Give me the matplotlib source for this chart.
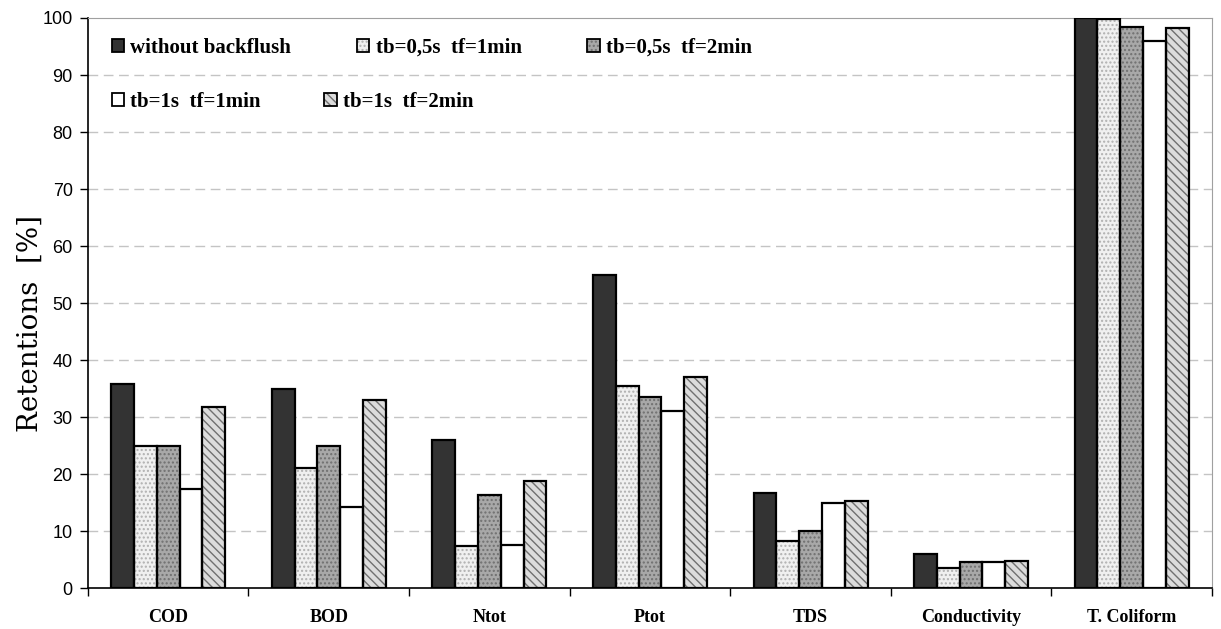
import matplotlib
matplotlib.use("Agg")
import matplotlib.pyplot as plt
from matplotlib.legend_handler import HandlerTuple
import numpy as np

categories = ["COD", "BOD", "Ntot", "Ptot", "TDS", "Conductivity", "T. Coliform"]
series_names = ["without backflush", "tb=0,5s  tf=1min", "tb=0,5s  tf=2min",
                "tb=1s  tf=1min", "tb=1s  tf=2min"]
without_backflush = [35.8, 35.0, 26.0, 55.0, 16.7, 6.0, 100.0]
tb05_tf1 = [25.0, 21.0, 7.3, 35.5, 8.3, 3.6, 99.8]
tb05_tf2 = [25.0, 25.0, 16.3, 33.5, 10.0, 4.5, 98.5]
tb1_tf1 = [17.4, 14.3, 7.5, 31.0, 15.0, 4.6, 96.0]
tb1_tf2 = [31.8, 33.0, 18.8, 37.0, 15.3, 4.8, 98.2]
y_ticks = [0, 10, 20, 30, 40, 50, 60, 70, 80, 90, 100]

series = [without_backflush, tb05_tf1, tb05_tf2, tb1_tf1, tb1_tf2]
styles = [
    dict(face="#333333", hatch=None, hcol="#333333"),
    dict(face="#f0f0f0", hatch="....", hcol="#b0b0b0"),
    dict(face="#a8a8a8", hatch="....", hcol="#707070"),
    dict(face="#ffffff", hatch=None, hcol="#ffffff"),
    dict(face="#dcdcdc", hatch="\\\\\\\\", hcol="#707070"),
]

fig = plt.figure(figsize=(12.21, 6.29), dpi=100)
ax = fig.add_axes([0.072, 0.065, 0.9206, 0.9064])

x = np.arange(len(categories))
w = 0.142
handles = []
for i, (vals, st) in enumerate(zip(series, styles)):
    pos = x + (i - 2) * w
    ax.bar(pos, vals, width=w, color=st["face"], hatch=st["hatch"],
           edgecolor=st["hcol"], linewidth=0, zorder=3)
    ax.bar(pos, vals, width=w, fill=False, edgecolor="black", linewidth=1.6, zorder=4)
    p1 = matplotlib.patches.Patch(facecolor=st["face"], hatch=st["hatch"],
                                  edgecolor=st["hcol"], linewidth=0)
    p2 = matplotlib.patches.Patch(fill=False, edgecolor="black", linewidth=1.3)
    handles.append((p1, p2))

ax.set_xlim(-0.5, len(categories) - 0.5)
ax.set_ylim(0, 100)
ax.set_yticks(y_ticks)
ax.set_yticklabels([str(t) for t in y_ticks], fontfamily="Liberation Sans", fontsize=13)
ax.set_xticks(x)
ax.set_xticklabels(categories, fontfamily="Liberation Serif", fontweight="bold", fontsize=13)
ax.set_xticks(np.arange(len(categories) + 1) - 0.5, minor=True)
ax.tick_params(axis="x", which="major", length=0, pad=15)
ax.tick_params(axis="x", which="minor", length=6, direction="out", width=1)
ax.tick_params(axis="y", length=6, direction="out", width=1, pad=5)

for yv in y_ticks[1:-1]:
    ax.axhline(yv, color="#c4c4c4", linestyle=(0, (7, 4)), linewidth=1.0, zorder=1)

ax.spines["left"].set_color("black")
ax.spines["bottom"].set_color("black")
ax.spines["left"].set_linewidth(1.2)
ax.spines["bottom"].set_linewidth(1.2)
ax.spines["top"].set_color("#a0a0a0")
ax.spines["right"].set_color("#a0a0a0")

ax.set_ylabel("Retentions  [%]", fontfamily="DejaVu Serif", fontsize=20)
ax.yaxis.set_label_coords(-0.039, 0.465)

lprops = dict(family="Liberation Serif", weight="bold", size=15)
common = dict(loc="upper left", frameon=False, prop=lprops,
              handlelength=0.6, handleheight=0.6, handletextpad=0.3,
              borderaxespad=0, borderpad=0,
              handler_map={tuple: HandlerTuple(ndivide=1)})
leg1 = ax.legend(handles[:3], series_names[:3], ncol=3,
                 bbox_to_anchor=(0.021, 0.965), columnspacing=3.15, **common)
leg1.set_zorder(6)
ax.add_artist(leg1)
leg2 = ax.legend(handles[3:], series_names[3:], ncol=2,
                 bbox_to_anchor=(0.021, 0.871), columnspacing=3.05, **common)
leg2.set_zorder(6)

fig.savefig("out.png", dpi=100, facecolor="white")
